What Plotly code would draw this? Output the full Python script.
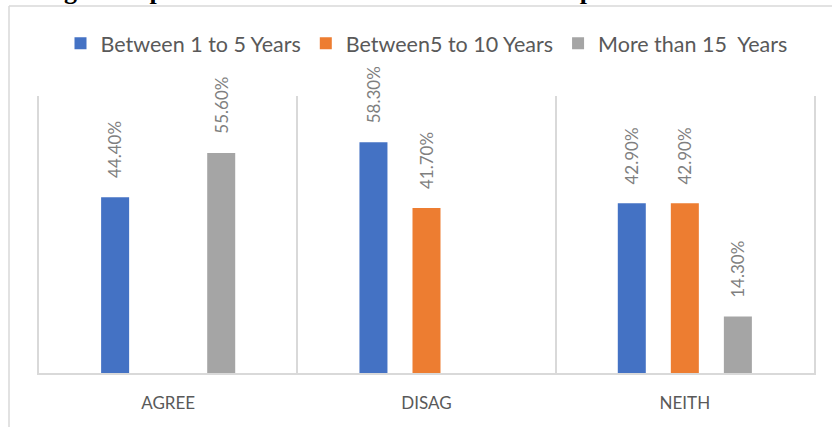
import plotly.graph_objects as go

categories = ["AGREE", "DISAG", "NEITH"]
series_names = ["Between 1 to 5 Years", "Between5 to 10 Years", "More than 15  Years"]
between_1_5 = [44.4, 58.3, 42.9]
between_5_10 = [None, 41.7, 42.9]
more_than_15 = [55.6, None, 14.3]
series_values = [between_1_5, between_5_10, more_than_15]
colors = ["#4472C4", "#ED7D31", "#A5A5A5"]
title_text = "Figure- Opinion based on Years of Service on Implementation of"

fig = go.Figure()
for name, vals, col in zip(series_names, series_values, colors):
    fig.add_trace(go.Bar(x=categories, y=vals, name=name, marker_color=col,
                         marker_line_width=0))

# data labels (rotated) via annotations
offsets = [-53, 0, 53]
annotations = []
for vals, off in zip(series_values, offsets):
    for c, v in zip(categories, vals):
        if v is None:
            continue
        annotations.append(dict(x=c, y=v, xref="x", yref="y", text=f"{v:.2f}%",
                                textangle=-90, showarrow=False, xshift=off,
                                yanchor="bottom", yshift=17,
                                font=dict(family="Lato", size=17, color="#7F7F7F")))
annotations.append(dict(x=0.0, y=1.0, xref="paper", yref="paper", text="<b>" + title_text + "</b>",
                        showarrow=False, xanchor="left", yanchor="bottom", yshift=89,
                        font=dict(family="Liberation Serif", size=26, color="#000000")))
fig.update_layout(annotations=annotations)

grid = "#D9D9D9"
fig.update_layout(
    width=832, height=427,
    margin=dict(l=39, r=18, t=96, b=54),
    paper_bgcolor="white", plot_bgcolor="white",
    barmode="group", bargap=0.384, bargroupgap=0.472,
    showlegend=True,
    legend=dict(orientation="h", x=0.5, xanchor="center", y=1.19, yanchor="middle",
                font=dict(family="Lato", size=21.5, color="#595959"),
                bgcolor="rgba(0,0,0,0)"),
    xaxis=dict(type="category", tickson="boundaries", showgrid=True, gridcolor=grid, gridwidth=1.5,
               showline=True, linecolor=grid, linewidth=1.5, ticks="", ticklabelstandoff=14,
               tickfont=dict(family="Lato", size=17, color="#595959")),
    yaxis=dict(range=[0, 70], showgrid=False, showticklabels=False, zeroline=False,
               showline=True, mirror=True, linecolor=grid, linewidth=1.5, ticks=""),
    shapes=[
        dict(type="line", xref="paper", yref="paper", x0=-0.0387, x1=1.1, y0=1.325, y1=1.325,
             line=dict(color=grid, width=1.5)),
        dict(type="line", xref="paper", yref="paper", x0=-0.0387, x1=-0.0387, y0=1.325, y1=-0.3,
             line=dict(color=grid, width=1.5)),
    ],
)
fig.write_html("out.html", config={"displayModeBar": False},
               post_script="document.body.style.margin='0';document.body.style.overflow='hidden';")
